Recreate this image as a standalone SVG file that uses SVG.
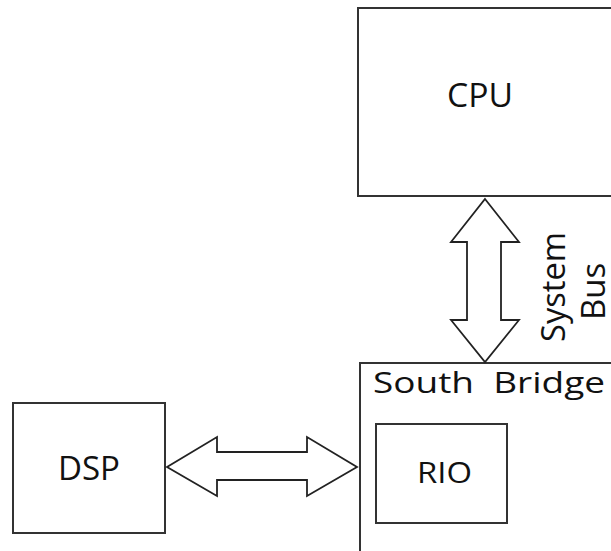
<svg xmlns="http://www.w3.org/2000/svg" width="611" height="551" viewBox="0 0 611 551">
<style>
.box{fill:#fff;stroke:#333;stroke-width:2}
.arrow{fill:#fff;stroke:#222;stroke-width:1.8;stroke-linejoin:miter}
.t{font-family:"Open Sans","DejaVu Sans",sans-serif;fill:#111}
</style>
<rect width="611" height="551" fill="#fff"/>
<g id="cpu">
<rect class="box" x="358" y="8" width="270" height="188"/>
<text class="t" x="447" y="107" font-size="32" textLength="66" lengthAdjust="spacingAndGlyphs">CPU</text>
</g>
<g id="south-bridge">
<rect class="box" x="360" y="363" width="270" height="210"/>
<text class="t" x="373" y="393" font-size="30" textLength="232" lengthAdjust="spacingAndGlyphs" xml:space="preserve">South  Bridge</text>
</g>
<g id="rio">
<rect class="box" x="376" y="424" width="131" height="99"/>
<text class="t" x="417" y="483" font-size="30" textLength="55" lengthAdjust="spacingAndGlyphs">RIO</text>
</g>
<g id="dsp">
<rect class="box" x="13" y="403" width="152" height="130"/>
<text class="t" x="58" y="480" font-size="32" textLength="62" lengthAdjust="spacingAndGlyphs">DSP</text>
</g>
<g id="connectors">
<polygon class="arrow" points="485,199 519,242 501,242 501,320 519,320 485,362 451,320 467,320 467,242 451,242"/>
<polygon class="arrow" points="167,467 217,437 217,452 307,452 307,437 357,467 307,496 307,480 217,480 217,496"/>
<text class="t" font-size="33" textLength="110" lengthAdjust="spacingAndGlyphs" transform="translate(565,342) rotate(-90)">System</text>
<text class="t" font-size="33" transform="translate(605,320) rotate(-90)">Bus</text>
</g>
</svg>
